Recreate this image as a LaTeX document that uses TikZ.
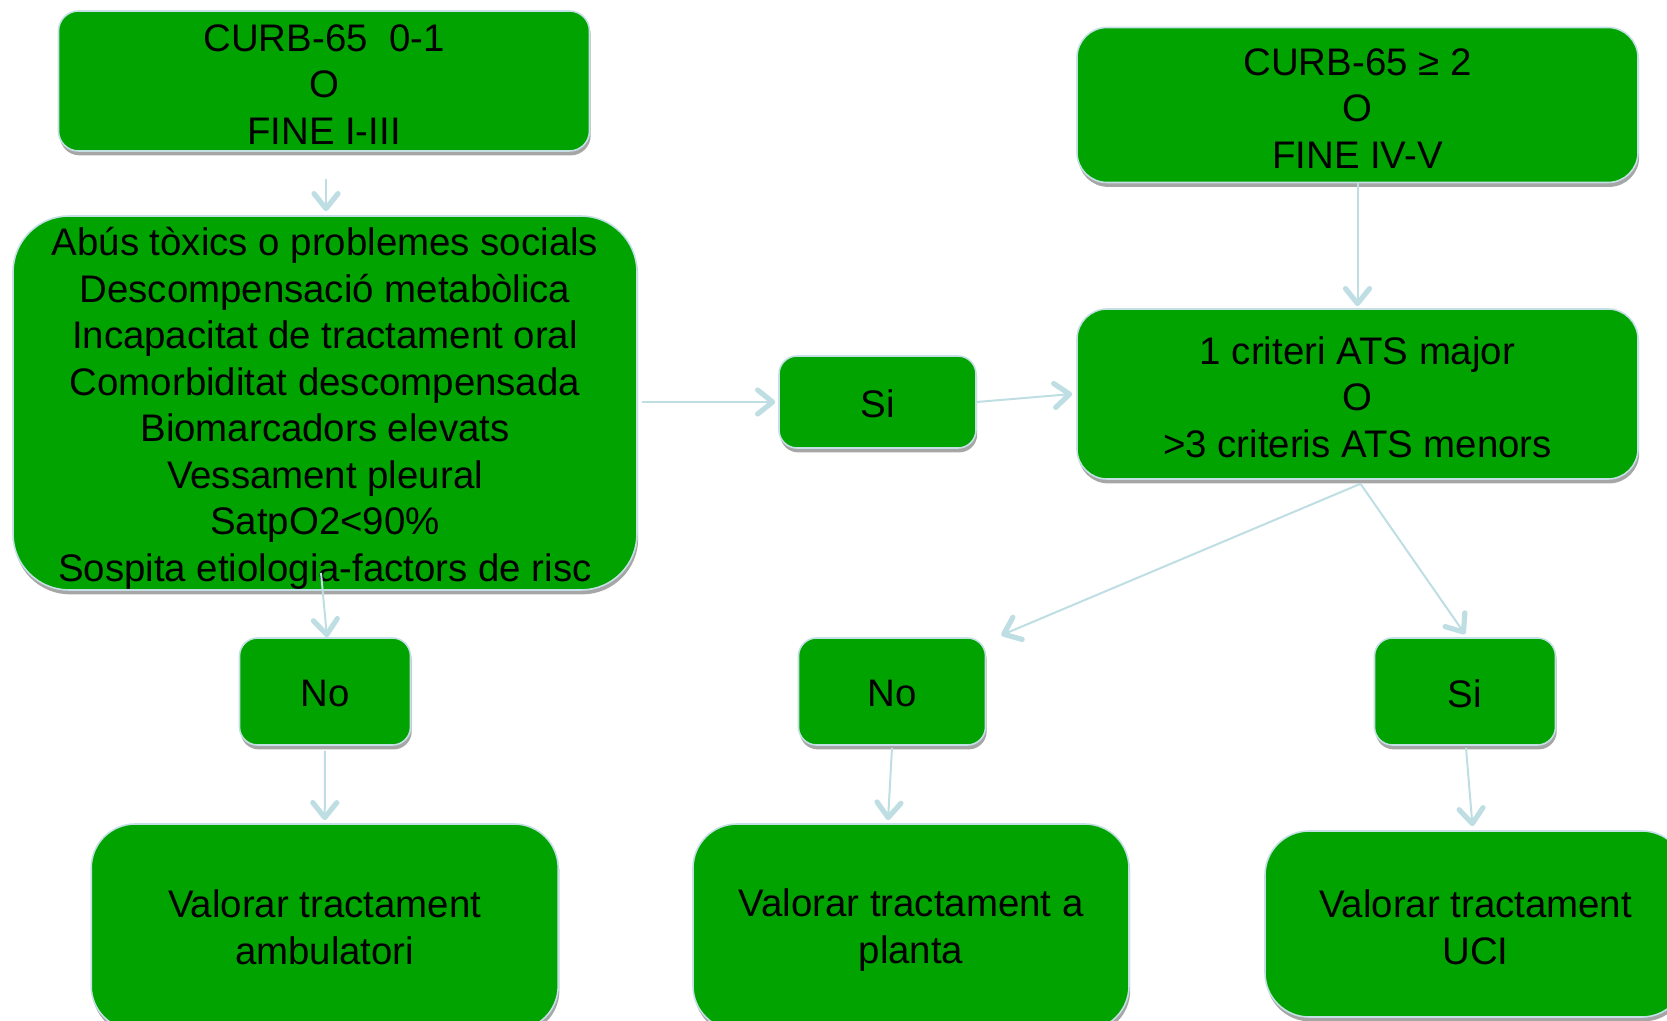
\documentclass[tikz,border=0pt]{standalone}
\usepackage{fontspec}
\setmainfont{Liberation Sans}
\usetikzlibrary{arrows.meta,shadows,calc}
\definecolor{boxgreen}{RGB}{0,163,0}
\definecolor{edgeblue}{RGB}{196,224,230}
\definecolor{arrblue}{RGB}{190,222,228}
\tikzset{
  box/.style={draw=edgeblue, line width=0.8pt, fill=boxgreen, inner sep=0pt,
    drop shadow={shadow xshift=0.6pt, shadow yshift=-2.2pt, opacity=0.35, fill=black}},
  txt/.style={inner sep=0pt, align=center, text=black,
    font=\fontsize{19.2pt}{23.25pt}\selectfont},
  arr/.style={draw=arrblue, line width=1pt,
    -{Straight Barb[length=7.5pt,width=12pt,line width=2.6pt,round]}}
}
\begin{document}
\begin{tikzpicture}[x=0.5pt,y=-0.5pt]
\useasboundingbox (0,0) rectangle (1667,1021);
\clip (0,0) rectangle (1667,1021);
% boxes
\node[box, rounded corners=10pt, minimum width=265.5pt, minimum height=70pt] (b1) at (324,81) {};
\node[box, rounded corners=15pt, minimum width=280.5pt, minimum height=77.5pt] (b2) at (1357.5,105) {};
\node[box, rounded corners=28pt, minimum width=312pt, minimum height=187pt] (big) at (325,403) {};
\node[box, rounded corners=9pt, minimum width=98.5pt, minimum height=46pt] (si) at (877.5,402) {};
\node[box, rounded corners=15pt, minimum width=280.5pt, minimum height=85pt] (crit) at (1357.5,394) {};
\node[box, rounded corners=9pt, minimum width=85.5pt, minimum height=53.5pt] (nol) at (325,691.5) {};
\node[box, rounded corners=9pt, minimum width=93.5pt, minimum height=53.5pt] (nom) at (892,691.5) {};
\node[box, rounded corners=9pt, minimum width=90.5pt, minimum height=53.5pt] (sir) at (1465,691.5) {};
\node[box, rounded corners=22pt, minimum width=233.5pt, minimum height=103pt] (amb) at (324.7,927) {};
\node[box, rounded corners=22pt, minimum width=218pt, minimum height=103pt] (pla) at (911,927) {};
\node[box, rounded corners=22pt, minimum width=210.5pt, minimum height=93pt] (uci) at (1475.5,924) {};
% texts
\node[txt] (b1t) at ($(b1)+(0,3.2)$) {CURB-65\ \ 0-1\\O\\FINE I-III};
\node[txt] (b2t) at ($(b2)+(0,3.2)$) {CURB-65 ≥ 2\\O\\FINE IV-V};
\node[txt] (bigt) at ($(big)+(0,5.3)$) {Abús tòxics o problemes socials\\Descompensació metabòlica\\Incapacitat de tractament oral\\Comorbiditat descompensada\\Biomarcadors elevats\\Vessament pleural\\SatpO2<90\%\\Sospita etiologia-factors de risc};
\node[txt] (sit) at ($(si)+(0,2.1)$) {Si};
\node[txt] (critt) at ($(crit)+(0,3.2)$) {1 criteri ATS major\\O\\>3 criteris ATS menors};
\node[txt] (nolt) at ($(nol)+(0,2.1)$) {No};
\node[txt] (nomt) at ($(nom)+(0,2.1)$) {No};
\node[txt] (sirt) at ($(sir)+(0,2.1)$) {Si};
\node[txt] (ambt) at ($(amb)+(0,0.5)$) {Valorar tractament\\ambulatori};
\node[txt] (plat) at ($(pla)+(0,3.2)$) {Valorar tractament a\\planta};
\node[txt] (ucit) at ($(uci)+(0,3.2)$) {Valorar tractament\\UCI};
% connectors
\draw[arr] ($(b1.south)+(2,27)$) -- ($(big.north)+(1,-4)$);
\draw[arr] (b2.south) -- ($(crit.north)+(0,-2)$);
\draw[arr] ($(big.east)+(4,-1)$) -- ($(si.west)+(-3,0)$);
\draw[arr] (si.east) -- ($(crit.west)+(-4,0)$);
\draw[arr] ($(crit.south)+(3,4)$) -- ($(nom.north east)+(15,-2)$);
\draw[arr] ($(crit.south)+(3,4)$) -- ($(sir.north)+(0,-3)$);
\draw[arr] ($(big.south)+(-4,-18)$) -- ($(nol.north)+(2,0)$);
\draw[arr] ($(nol.south)+(0,5)$) -- ($(amb.north)+(0,-3)$);
\draw[arr] ($(nom.south)+(0,2)$) -- ($(pla.north)+(-23,-3)$);
\draw[arr] ($(sir.south)+(1,2)$) -- ($(uci.north)+(-3,-4)$);
\end{tikzpicture}
\end{document}
